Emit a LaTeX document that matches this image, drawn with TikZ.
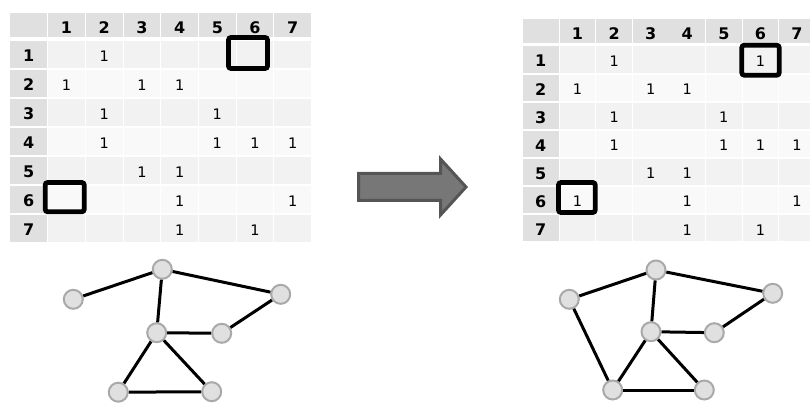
\documentclass[tikz,border=0pt]{standalone}
\usepackage{fontspec}
\setmainfont{DejaVu Sans}
\usepackage{tikz}
\usetikzlibrary{
	arrows.meta,
	positioning,
	calc
}
\usepackage{xcolor}

\definecolor{headgray}{HTML}{E0E0E0}
\definecolor{oddrow}{HTML}{F2F2F2}
\definecolor{evenrow}{HTML}{F9F9F9}
\definecolor{nodefill}{HTML}{E0E0E0}
\definecolor{nodeline}{HTML}{A9A9A9}
\definecolor{arrowfill}{HTML}{777777}
\definecolor{arrowline}{HTML}{555555}

\tikzset{
	headcell/.style={fill=headgray},
	headnum/.style={font=\fontsize{16}{16}\selectfont\bfseries, inner sep=0pt},
	cellnum/.style={font=\fontsize{14.5}{14.5}\selectfont, inner sep=0pt},
	hilite/.style={draw=black, line width=4.8pt, rounded corners=2.5pt},
	vertex/.style={circle, fill=nodefill, draw=nodeline, line width=2pt,
		minimum size=19pt, inner sep=0pt},
	link/.style={line width=3pt}
}

% adjacency table: prefix, origin (top left of row 1), scale, entries
\newcommand{\adjtable}[4]{%
	\begin{scope}[shift={#2}, scale=#3]
		\fill[headcell] (0,-28.3) rectangle (37.2,-3.7);
		\foreach \c in {1,...,7} {
			\fill[headcell] (37.7*\c+0.5,-28.3) rectangle (37.7*\c+37.2,-3.7);
			\node[headnum] (#1h\c) at (37.7*\c+18.85,-13.5) {\c};
		}
		\foreach \r in {1,...,7} {
			\ifodd\r \def\rowfill{oddrow}\else \def\rowfill{evenrow}\fi
			\fill[headcell] (0,29*\r-29) rectangle (37.2,29*\r-2);
			\node[headnum] (#1v\r) at (18.6,29*\r-14) {\r};
			\foreach \c in {1,...,7}
				\fill[fill=\rowfill] (37.7*\c+0.5,29*\r-29) rectangle (37.7*\c+37.2,29*\r-2);
		}
		\foreach \r/\c in #4
			\node[cellnum] (#1\r\c) at (37.7*\c+18.85,29*\r-14) {1};
	\end{scope}}

\def\leftentries{1/2,2/1,2/3,2/4,3/2,3/5,4/2,4/5,4/6,4/7,5/3,5/4,6/4,6/7,7/4,7/6}
\def\rightentries{1/2,1/6,2/1,2/3,2/4,3/2,3/5,4/2,4/5,4/6,4/7,5/3,5/4,6/1,6/4,6/7,7/4,7/6}

\begin{document}
\begin{tikzpicture}[x=1pt, y=-1pt]
	
	\useasboundingbox (0,0) rectangle (810,403);
	
	% tables
	\adjtable{L}{(10,41)}{1}{\leftentries}
	\adjtable{R}{(522.7,46.5)}{0.97}{\rightentries}
	
	\draw[hilite] (228.5,37.5) rectangle (267.5,68.5);
	\draw[hilite] (45.2,182.5) rectangle (84.2,211.8);
	\draw[hilite] (741.8,45.2) rectangle (779.2,75.2);
	\draw[hilite] (558.5,182.5) rectangle (595.2,212.5);
	
	% big arrow
	\draw[fill=arrowfill, draw=arrowline, line width=3pt, line join=miter]
	(358.5,173.5) -- (440.5,173.5) -- (440.5,159) -- (466,187)
	-- (440.5,215) -- (440.5,200.5) -- (358.5,200.5) -- cycle;
	
	% graph before
	\node[vertex] (l1) at (73.3,299.3) {};
	\node[vertex] (l2) at (162.3,269.3) {};
	\node[vertex] (l3) at (280.7,294.3) {};
	\node[vertex] (l4) at (156.7,332.7) {};
	\node[vertex] (l5) at (221.7,333.3) {};
	\node[vertex] (l6) at (118.3,392.2) {};
	\node[vertex] (l7) at (211.7,391.7) {};
	\foreach \a/\b in {1/2,2/3,2/4,3/5,4/5,4/6,4/7,6/7}
		\draw[link] (l\a) -- (l\b);
	
	% graph after
	\node[vertex] (r1) at (569.3,299.3) {};
	\node[vertex] (r2) at (656,270) {};
	\node[vertex] (r3) at (772.7,293.3) {};
	\node[vertex] (r4) at (651,331.7) {};
	\node[vertex] (r5) at (714.3,332.7) {};
	\node[vertex] (r6) at (612.7,390) {};
	\node[vertex] (r7) at (704.3,390) {};
	\foreach \a/\b in {1/2,2/3,2/4,3/5,4/5,4/6,4/7,6/7,1/6}
		\draw[link] (r\a) -- (r\b);
	
\end{tikzpicture}
\end{document}
